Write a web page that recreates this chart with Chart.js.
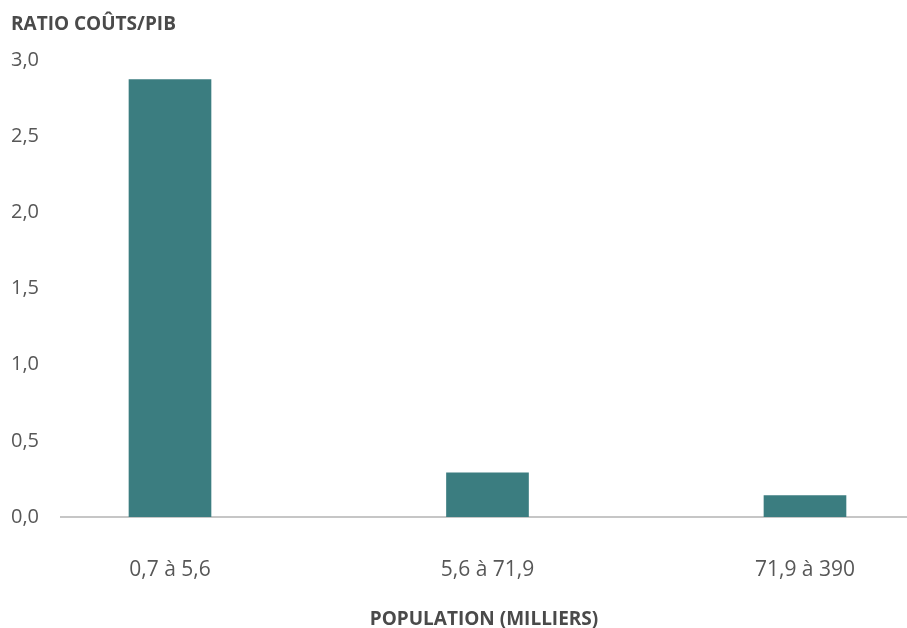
<!DOCTYPE html>
<html lang="fr">
<head>
<meta charset="utf-8">
<title>Ratio coûts/PIB</title>
<script src="https://cdn.jsdelivr.net/npm/chart.js@4/dist/chart.umd.min.js"></script>
<style>
  html, body { margin: 0; padding: 0; background: #fff; }
  #wrap { width: 907px; height: 628px; position: relative; }
</style>
</head>
<body>
<div id="wrap"><canvas id="bar-chart"></canvas></div>
<script>
const categories = ["0,7 à 5,6", "5,6 à 71,9", "71,9 à 390"];
const ratios = [2.87, 0.29, 0.14];
const yTicks = [0, 0.5, 1, 1.5, 2, 2.5, 3];

const textColor = "#575757";
const barColor = "#3b7d80";

function createChart() {
  const ctx = document.getElementById("bar-chart").getContext("2d");
  const config = {
    type: "bar",
    data: {
      datasets: [
        {
          label: "Ratio coûts/PIB",
          data: ratios.map((v, i) => ({ x: i, y: v })),
          backgroundColor: barColor,
          borderWidth: 0,
          barThickness: 82,
        },
      ],
    },
    options: {
      responsive: true,
      maintainAspectRatio: false,
      animation: false,
      layout: { padding: { left: 11, right: 0, top: 0, bottom: 0 } },
      plugins: {
        legend: { display: false },
        tooltip: { enabled: false },
        title: {
          display: true,
          text: "RATIO COÛTS/PIB",
          align: "start",
          color: "#4a4a4a",
          font: { family: "Open Sans", size: 19, weight: "bold" },
          padding: { top: 13, bottom: 24 },
        },
      },
      scales: {
        x: {
          type: "linear",
          offset: false,
          bounds: "data",
          min: -0.3433,
          max: 2.3213,
          grid: { display: false },
          border: { display: true, color: "#c6c6c6", width: 2 },
          afterBuildTicks: (scale) => {
            scale.ticks = categories.map((c, i) => ({ value: i }));
          },
          afterFit: (scale) => {
            scale.height = 111;
          },
          ticks: {
            autoSkip: false,
            maxRotation: 0,
            padding: 32,
            color: textColor,
            font: { family: "Open Sans", size: 21 },
            callback: (v) => categories[v],
          },
          title: {
            display: true,
            text: "POPULATION (MILLIERS)",
            color: "#4a4a4a",
            font: { family: "Open Sans", size: 19, weight: "bold", lineHeight: 1 },
            padding: { top: 20, bottom: -1 },
          },
        },
        y: {
          min: 0,
          max: 3,
          grid: { display: false },
          border: { display: false },
          afterBuildTicks: (scale) => {
            scale.ticks = yTicks.map((v) => ({ value: v }));
          },
          afterFit: (scale) => {
            scale.width = 50;
          },
          ticks: {
            crossAlign: "far",
            color: textColor,
            font: { family: "Open Sans", size: 20 },
            callback: (v) => v.toFixed(1).replace(".", ","),
          },
        },
      },
    },
  };
  return new Chart(ctx, config);
}

createChart();
</script>
</body>
</html>
